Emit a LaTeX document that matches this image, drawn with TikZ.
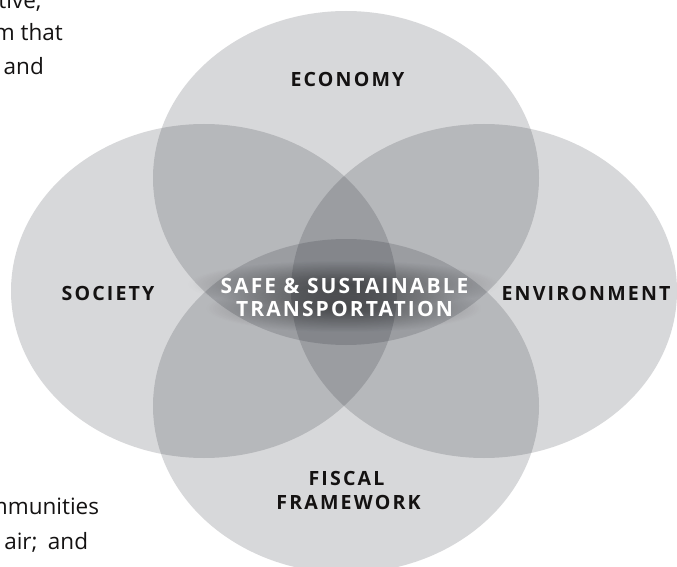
\documentclass[tikz,border=0pt]{standalone}
\usepackage{fontspec}
\setmainfont{Open Sans}
\newfontfamily\lblfont[LetterSpace=11]{Open Sans}
\newfontfamily\ctrfont[LetterSpace=10]{Open Sans}
\usetikzlibrary{shapes.geometric,fadings}
\tikzfading[name=softglow, inner color=transparent!15, outer color=transparent!100]
\definecolor{vennfill}{RGB}{20,25,35}
\definecolor{lbl}{RGB}{20,18,18}
\begin{document}
\begin{tikzpicture}[x=1pt,y=-1pt,
  venn/.style={ellipse, minimum width=386pt, minimum height=334pt, inner sep=0pt,
    fill=vennfill, fill opacity=0.17},
  lab/.style={font=\lblfont\bfseries\fontsize{19.6}{24}\selectfont, text=lbl, anchor=base, inner sep=0pt},
  ctr/.style={font=\ctrfont\bfseries\fontsize{21}{23.4}\selectfont, text=white, anchor=base, inner sep=0pt},
  halo/.style={fill=black, fill opacity=0.55, path fading=softglow},
  body/.style={font=\fontsize{22.5}{33}\selectfont, text=lbl, anchor=base east, inner sep=0pt}]
\useasboundingbox (0,0) rectangle (677,567);
% four overlapping ellipses
\node[venn] (econ) at (346,178) {};
\node[venn] (soc)  at (204,291) {};
\node[venn] (env)  at (484,291) {};
\node[venn] (fisc) at (346,406) {};
% labels
\node[lab] (leco) at (347.5,86.7) {ECONOMY};
\node[lab] (lsoc) at (108,300.7) {SOCIETY};
\node[lab] (lenv) at (586,300.7) {ENVIRONMENT};
\node[lab] (lfi1) at (346.5,485) {FISCAL};
\node[lab] (lfi2) at (348.5,509.3) {FRAMEWORK};
% soft dark glow behind centre text
\fill[halo] (188,260) rectangle (499,308);
\fill[halo] (206,284) rectangle (481,332);
\node[ctr] (c1) at (344.5,293.3) {SAFE \& SUSTAINABLE};
\node[ctr] (c2) at (344.5,316.7) {TRANSPORTATION};
% cropped body text fragments
\node[body] (t1) at (41.7,8.3) {tive,};
\node[body] (t2) at (63,40.7) {m that};
\node[body] (t3) at (44,74.5) {and};
\node[body] (t4) at (99.3,514) {mmunities};
\node[body] (t5) at (88.3,549) {air;\hspace{0.2em} and};
\end{tikzpicture}
\end{document}
